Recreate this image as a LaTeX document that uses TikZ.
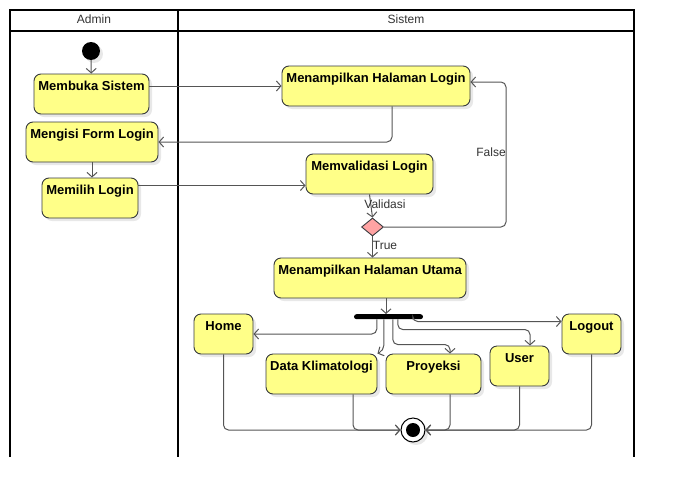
\documentclass[tikz,border=0pt]{standalone}
\usepackage{fontspec}
\setmainfont{Liberation Sans}
\usetikzlibrary{arrows.meta,shadows,calc,shapes.geometric}
\definecolor{actfill}{HTML}{FFFF88}
\definecolor{actline}{HTML}{36393D}
\definecolor{flowc}{HTML}{555555}
\definecolor{shad}{HTML}{E8E8E8}
\definecolor{decfill}{HTML}{FFA3A3}
\definecolor{txtc}{HTML}{333333}
\begin{document}
\begin{tikzpicture}[x=1pt,y=-1pt,
  shd/.style={drop shadow={shadow xshift=3pt,shadow yshift=-3pt,fill=shad,opacity=1}},
  act/.style={draw=actline,fill=actfill,line width=0.9pt,rounded corners=7pt,
    inner xsep=0pt,inner ysep=0pt,text height=16.6pt,text depth=23.4pt,
    font=\fontsize{13}{15}\selectfont\bfseries,shd},
  flow/.style={draw=flowc,line width=1pt,-{Straight Barb[length=4.5pt,width=10pt]},rounded corners=5pt},
  lbl/.style={font=\fontsize{12}{14}\selectfont,text=txtc,inner sep=0pt},
  lane/.style={line width=1.5pt,draw=black}]
\useasboundingbox (0,0) rectangle (674,498);
% swimlanes
\draw[lane] (10,457) -- (10,10) -- (634,10) -- (634,457);
\draw[lane] (10,31) -- (634,31);
\draw[lane] (178,10) -- (178,457);
\node[lbl] (hAdmin) at (94,19.5) {Admin};
\node[lbl] (hSistem) at (406,19.5) {Sistem};
% nodes
\node[circle,fill=black,minimum size=18pt,inner sep=0pt,shd] (start) at (91,51) {};
\node[act,minimum width=115pt] (mem) at (91.5,94) {Membuka Sistem};
\node[act,minimum width=132pt] (isi) at (92,142) {Mengisi Form Login};
\node[act,minimum width=96pt] (pilih) at (90,198) {Memilih Login};
\node[act,minimum width=188pt] (hlog) at (376,86) {Menampilkan Halaman Login};
\node[act,minimum width=127pt] (valid) at (369.5,174) {Memvalidasi Login};
\node[diamond,draw=actline,fill=decfill,line width=0.9pt,minimum width=22pt,minimum height=18pt,inner sep=0pt] (dec) at (372.5,227) {};
\node[act,minimum width=192pt] (utama) at (370,278) {Menampilkan Halaman Utama};
\node[fill=black,rounded corners=2.5pt,minimum width=69pt,minimum height=5pt,inner sep=0pt] (fork) at (388.5,316.7) {};
\node[act,minimum width=59pt] (home) at (223.5,334) {Home};
\node[act,minimum width=111pt] (dk) at (321.5,374) {Data Klimatologi};
\node[act,minimum width=95pt] (proy) at (433.5,374) {Proyeksi};
\node[act,minimum width=59pt] (user) at (519.5,366) {User};
\node[act,minimum width=59pt] (logout) at (591.5,334) {Logout};
\node[circle,draw=black,fill=white,line width=1pt,minimum size=24pt,inner sep=0pt,shd] (final) at (413,430) {};
\node[circle,fill=black,minimum size=14pt,inner sep=0pt] (finalin) at (final) {};
% connectors
\draw[flow] (start) -- (mem);
\draw[flow] (mem.east |- hlog.west) -- (hlog.west);
\draw[flow] ($(hlog.south)+(16,0)$) |- (isi.east);
\draw[flow] (isi.south) -- (isi.south |- pilih.north);
\draw[flow] ($(pilih.north east)+(0,8)$) coordinate (pv) -- (pv -| valid.west);
\draw[flow] (valid.south) -- (dec.north);
\node[lbl] (lValid) at (385,204) {Validasi};
\coordinate (fc) at (506,82);
\draw[flow] (dec.east) -| (fc) -- (fc -| hlog.east);
\node[lbl] (lFalse) at (491,152) {False};
\draw[flow] (dec.south) -- (dec.south |- utama.north);
\node[lbl] (lTrue) at (385,245) {True};
\draw[flow] ($(utama.south)+(16,0)$) coordinate (u1) -- (u1 |- fork.north);
\draw[flow] ($(fork.south west)+(23,0)$) |- (home.east);
\draw[flow] ($(fork.south west)+(30,0)$) coordinate (f2) -- ($(f2)+(0,31)$) -- (dk.north east);
\draw[flow] ($(fork.south west)+(39,0)$) |- ($(proy.north)+(16.5,-9)$) -- ($(proy.north)+(16.5,0)$);
\draw[flow] ($(fork.south west)+(44,0)$) |- ($(user.north)+(10.5,-16)$) -- ($(user.north)+(10.5,0)$);
\draw[flow] ($(fork.south west)+(59,0)$) |- ($(logout.north west)+(0,8)$);
\draw[flow] (home.south) |- (final.west);
\draw[flow] ($(dk.south)+(31.5,0)$) |- (final.west);
\draw[flow] ($(proy.south)+(16.5,0)$) |- (final.east);
\draw[flow] (user.south) |- (final.east);
\draw[flow] (logout.south) |- (final.east);
\end{tikzpicture}
\end{document}
